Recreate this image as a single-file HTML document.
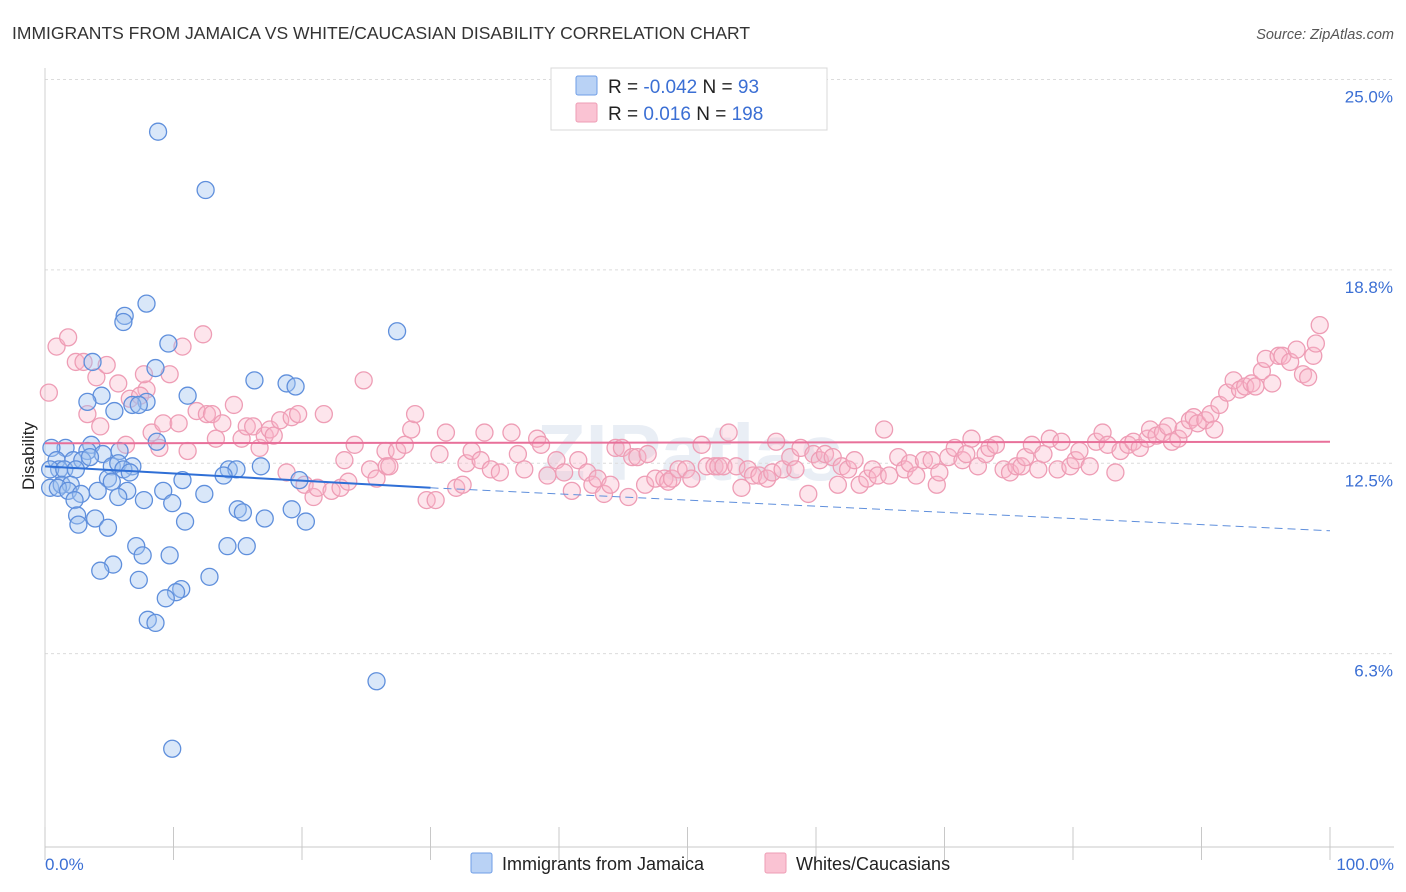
<!DOCTYPE html>
<html><head><meta charset="utf-8">
<style>
body{margin:0;background:#fff;font-family:"Liberation Sans",sans-serif;}
#wrap{position:relative;width:1406px;height:892px;overflow:hidden;}
</style></head>
<body>
<div id="wrap">
<svg id="svg" width="1406" height="892" xmlns="http://www.w3.org/2000/svg">
<text x="12" y="39" font-size="17.5" fill="#333">IMMIGRANTS FROM JAMAICA VS WHITE/CAUCASIAN DISABILITY CORRELATION CHART</text>
<text x="1394" y="39" font-size="14.5" fill="#555" font-style="italic" text-anchor="end">Source: ZipAtlas.com</text>
<text x="690" y="480" font-size="80" fill="#e9eef5" text-anchor="middle" font-weight="bold">ZIPatlas</text>
<g id="grid"></g>
<g id="axes"></g>
<g id="pts"></g>
<g id="trends"></g>
<text transform="translate(34,456) rotate(-90)" font-size="17" fill="#222" text-anchor="middle">Disability</text>
<text x="45" y="870" font-size="17" fill="#3b6fd4">0.0%</text>
<text x="1394" y="870" font-size="17" fill="#3b6fd4" text-anchor="end">100.0%</text>
<g>
<rect x="551" y="68" width="276" height="62" fill="#fff" stroke="#d8d8d8"/>
<rect x="576" y="76" width="21" height="19" fill="#b9d2f5" stroke="#6f9ee6" rx="2"/>
<rect x="576" y="103" width="21" height="19" fill="#fac3d3" stroke="#ee9db5" rx="2"/>
<text x="608" y="93" font-size="19" fill="#222">R = <tspan fill="#3b6fd4">-0.042</tspan>   N = <tspan fill="#3b6fd4">  93</tspan></text>
<text x="608" y="120" font-size="19" fill="#222">R = <tspan fill="#3b6fd4">  0.016</tspan>   N = <tspan fill="#3b6fd4">198</tspan></text>
</g>
<g>
<rect x="471" y="853" width="21" height="20" fill="#b9d2f5" stroke="#6f9ee6" rx="2"/>
<text x="502" y="870" font-size="18" fill="#222">Immigrants from Jamaica</text>
<rect x="765" y="853" width="21" height="20" fill="#fac3d3" stroke="#ee9db5" rx="2"/>
<text x="796" y="870" font-size="18" fill="#222">Whites/Caucasians</text>
</g>
</svg>
</div>
<script>
const yTicks=[25.0,18.8,12.5,6.3];
const yTickLabels=["25.0%","18.8%","12.5%","6.3%"];
const xTicks=[0,10,20,30,40,50,60,70,80,90,100];
const blueX=[8.8,12.5,7.9,6.2,6.1,9.6,27.4,3.7,8.6,16.3,18.8,19.5,4.4,11.1,3.3,7.9,6.8,7.3,5.4,8.7,1.6,0.5,3.6,3.3,0.9,4.5,5.8,2.2,2.9,3.5,5.2,5.7,6.8,1.1,0.4,1.5,2.4,6.1,6.6,14.3,14.9,16.8,13.9,10.7,4.9,5.2,19.8,0.4,1.3,2.0,1.0,1.8,9.2,2.8,4.1,6.4,12.4,5.7,7.7,2.3,9.9,15.0,15.4,19.2,2.5,3.9,17.1,20.3,10.9,2.6,4.9,7.1,14.2,15.7,7.6,9.7,5.3,4.3,12.8,7.3,10.6,10.2,9.4,8.0,8.6,25.8,9.9];
const blueY=[23.3,21.4,17.7,17.3,17.1,16.4,16.8,15.8,15.6,15.2,15.1,15.0,14.7,14.7,14.5,14.5,14.4,14.4,14.2,13.2,13.0,13.0,13.1,12.9,12.6,12.8,12.9,12.6,12.6,12.7,12.4,12.5,12.4,12.3,12.3,12.3,12.3,12.3,12.2,12.3,12.3,12.4,12.1,11.95,12.0,11.9,11.95,11.7,11.8,11.8,11.7,11.6,11.6,11.5,11.6,11.6,11.5,11.4,11.3,11.3,11.2,11.0,10.9,11.0,10.8,10.7,10.7,10.6,10.6,10.5,10.4,9.8,9.8,9.8,9.5,9.5,9.2,9.0,8.8,8.7,8.4,8.3,8.1,7.4,7.3,5.4,3.2];
const pinkX=[0.3,0.9,1.8,2.4,3.0,4.0,4.8,3.3,4.3,5.7,6.3,6.6,7.9,7.7,7.4,8.3,8.9,9.2,9.7,10.4,10.7,11.1,11.8,12.3,12.6,13.0,13.3,13.8,14.7,15.3,15.7,16.2,16.7,17.1,17.5,17.8,18.3,18.8,19.2,19.7,20.2,20.9,21.2,21.7,22.3,23.0,23.3,23.6,24.1,24.8,25.3,25.8,26.5,26.6,26.8,27.4,28.0,28.5,28.8,29.7,30.4,30.7,31.2,32.0,32.5,32.8,33.2,33.9,34.2,34.7,35.4,36.3,36.8,37.3,38.3,38.6,39.1,39.8,40.4,41.0,41.5,42.2,42.6,43.0,43.5,44.0,44.4,44.9,45.4,45.7,46.1,46.7,46.9,47.5,48.2,48.5,48.8,49.3,49.9,50.3,51.1,51.5,52.1,52.4,52.8,53.2,53.8,54.2,54.7,55.1,55.6,56.2,56.6,56.9,57.4,58.0,58.4,58.8,59.4,59.8,60.3,60.7,61.3,61.7,62.0,62.5,63.0,63.4,64.0,64.4,64.8,65.3,65.7,66.4,66.9,67.3,67.8,68.4,69.0,69.4,69.6,70.3,70.8,71.4,71.7,72.1,72.6,73.2,73.5,74.0,74.6,75.1,75.6,76.0,76.3,76.8,77.3,77.7,78.2,78.8,79.1,79.8,80.2,80.5,81.3,81.8,82.3,82.7,83.3,83.7,84.3,84.7,85.2,85.8,86.0,86.5,87.0,87.4,87.7,88.2,88.6,89.1,89.4,89.7,90.3,90.7,91.0,91.4,92.0,92.5,93.0,93.4,93.9,94.2,94.7,95.0,95.5,96.0,96.3,96.9,97.4,97.9,98.3,98.7,98.9,99.2];
const pinkY=[14.8,16.3,16.6,15.8,15.8,15.3,15.7,14.1,13.7,15.1,13.1,14.6,14.9,15.4,14.7,13.5,13.0,13.8,15.4,13.8,16.3,12.9,14.2,16.7,14.1,14.1,13.3,13.8,14.4,13.3,13.7,13.7,13.0,13.4,13.6,13.4,13.9,12.2,14.0,14.1,11.8,11.4,11.7,14.1,11.6,11.7,12.6,11.9,13.1,15.2,12.3,12.0,12.9,12.4,12.4,12.9,13.1,13.6,14.1,11.3,11.3,12.8,13.5,11.7,11.8,12.5,12.9,12.6,13.5,12.3,12.2,13.5,12.8,12.3,13.3,13.1,12.1,12.6,12.2,11.6,12.6,12.2,11.8,12.0,11.5,11.8,13.0,13.0,11.4,12.7,12.7,11.8,12.8,12.0,12.0,11.9,12.0,12.3,12.3,12.0,13.1,12.4,12.4,12.4,12.4,13.5,12.4,11.7,12.3,12.1,12.1,12.0,12.2,13.2,12.3,12.7,12.3,13.0,11.5,12.8,12.6,12.8,12.7,11.8,12.4,12.3,12.6,11.8,12.0,12.3,12.1,13.6,12.1,12.7,12.3,12.5,12.1,12.6,12.6,11.8,12.2,12.7,13.0,12.6,12.8,13.3,12.4,12.8,13.0,13.1,12.3,12.2,12.4,12.4,12.7,13.1,12.3,12.8,13.3,12.3,13.2,12.4,12.6,12.9,12.4,13.2,13.5,13.1,12.2,12.9,13.1,13.2,13.0,13.3,13.6,13.4,13.5,13.7,13.2,13.3,13.6,13.9,14.0,13.8,13.9,14.1,13.6,14.4,14.8,15.2,14.9,15.0,15.1,15.0,15.5,15.9,15.1,16.0,16.0,15.8,16.2,15.4,15.3,16.0,16.4,17.0];
const blueTrend=[12.4,11.7,10.3]; // at x=0, 30, 100
const pinkTrend=[13.15,13.2];     // at x=0, 100

const X0=45,X1=1330,YB=847,PXPER=30.7;
const xs=v=>X0+(X1-X0)*v/100;
const ys=v=>YB-v*PXPER;
const NS="http://www.w3.org/2000/svg";
function mk(tag,attrs,parent){const e=document.createElementNS(NS,tag);for(const k in attrs)e.setAttribute(k,attrs[k]);parent.appendChild(e);return e;}
const grid=document.getElementById('grid'),axes=document.getElementById('axes'),pts=document.getElementById('pts'),tr=document.getElementById('trends');
yTicks.forEach((t,i)=>{
  const l=mk('line',{x1:X0,x2:1394,y1:ys(t),y2:ys(t),stroke:'#dcdcdc','stroke-dasharray':'3,3'},grid);
  
  
  const tx=mk('text',{x:1393,y:ys(t)+23,'font-size':17,fill:'#3b6fd4','text-anchor':'end'},axes);
  tx.textContent=yTickLabels[i];
  
  
});
const ya=mk('line',{x1:X0,x2:X0,y1:68,y2:YB,stroke:'#d0d0d0'},axes);


const xa=mk('line',{x1:X0,x2:1394,y1:YB,y2:YB,stroke:'#c8c8c8'},axes);


xTicks.forEach(t=>{
  const l=mk('line',{x1:xs(t),x2:xs(t),y1:YB-20,y2:YB+13,stroke:'#c8c8c8'},axes);
  
  
});
pinkX.forEach((v,i)=>{
  const c=mk('circle',{cx:xs(v),cy:ys(pinkY[i]),r:8.5,fill:'rgba(248,180,200,0.35)',stroke:'#ee9db5','stroke-width':1.3},pts);
  
  
});
blueX.forEach((v,i)=>{
  const c=mk('circle',{cx:xs(v),cy:ys(blueY[i]),r:8.5,fill:'rgba(160,195,240,0.4)',stroke:'#5f8fdc','stroke-width':1.3},pts);
  
  
});
const pl=mk('line',{x1:xs(0),x2:xs(100),y1:ys(pinkTrend[0]),y2:ys(pinkTrend[1]),stroke:'#e8709a','stroke-width':2},tr);


const bl=mk('line',{x1:xs(0),x2:xs(30),y1:ys(blueTrend[0]),y2:ys(blueTrend[1]),stroke:'#2f6fd6','stroke-width':2},tr);


const bd=mk('line',{x1:xs(30),x2:xs(100),y1:ys(blueTrend[1]),y2:ys(blueTrend[2]),stroke:'#5f8fdc','stroke-width':1,'stroke-dasharray':'8,5'},tr);


</script>
</body></html>
